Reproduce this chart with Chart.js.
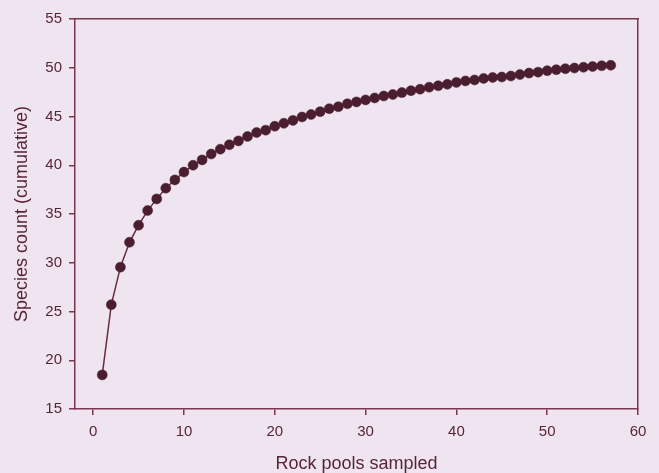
<!DOCTYPE html>
<html>
<head>
<meta charset="utf-8">
<script src="https://cdn.jsdelivr.net/npm/chart.js@4/dist/chart.umd.min.js"></script>
<style>
  html, body { margin: 0; padding: 0; background: #efe5f0; }
  #wrap { width: 659px; height: 473px; }
</style>
</head>
<body>
<div id="wrap"><canvas id="c" width="659" height="473"></canvas></div>
<script>
const poolsSampled = [1,2,3,4,5,6,7,8,9,10,11,12,13,14,15,16,17,18,19,20,21,22,23,24,25,26,27,28,29,30,31,32,33,34,35,36,37,38,39,40,41,42,43,44,45,46,47,48,49,50,51,52,53,54,55,56,57];
const speciesCount = [18.5,25.7,29.55,32.1,33.85,35.35,36.55,37.65,38.5,39.3,40.0,40.55,41.15,41.65,42.1,42.5,42.95,43.35,43.6,44.0,44.3,44.6,44.95,45.2,45.5,45.8,46.0,46.3,46.5,46.7,46.9,47.1,47.25,47.45,47.65,47.8,48.0,48.15,48.3,48.5,48.65,48.75,48.9,49.0,49.05,49.15,49.3,49.45,49.55,49.7,49.8,49.9,49.97,50.05,50.12,50.2,50.25];
const xTickValues = [0,10,20,30,40,50,60];
const yTickValues = [15,20,25,30,35,40,45,50,55];
const xTitle = 'Rock pools sampled';
const yTitle = 'Species count (cumulative)';

const axisColor = '#7a3550';
const textColor = '#5a2438';
const tickFont = { family: '"Liberation Sans", Arial, sans-serif', size: 15 };
const titleFont = { family: '"Liberation Sans", Arial, sans-serif', size: 18, lineHeight: 1 };

const points = poolsSampled.map((x, i) => ({ x: x, y: speciesCount[i] }));

new Chart(document.getElementById('c'), {
  type: 'scatter',
  data: {
    datasets: [{
      data: points,
      showLine: true,
      borderColor: '#6a2a42',
      borderWidth: 1.5,
      pointRadius: 5,
      pointHoverRadius: 5,
      pointBackgroundColor: '#4a1e2e',
      pointBorderColor: '#4a1e2e',
      pointBorderWidth: 0.5
    }]
  },
  options: {
    responsive: false,
    animation: false,
    events: [],
    layout: { padding: { left: 0, right: 21, top: 19, bottom: 0 } },
    plugins: { legend: { display: false }, tooltip: { enabled: false } },
    scales: {
      x: {
        type: 'linear',
        position: 'bottom',
        min: -2,
        max: 60,
        afterBuildTicks: (s) => { s.ticks = xTickValues.map(v => ({ value: v })); },
        afterFit: (s) => { s.height = 64; },
        ticks: { font: tickFont, color: textColor, padding: 8, includeBounds: false, maxRotation: 0 },
        grid: { drawOnChartArea: false, drawTicks: true, tickLength: 6, color: axisColor, lineWidth: 1.5 },
        border: { display: true, color: axisColor, width: 1.5 },
        title: { display: true, text: xTitle, font: titleFont, color: textColor, padding: { top: 0, bottom: 0 } }
      },
      y: {
        type: 'linear',
        position: 'left',
        min: 15,
        max: 55,
        afterBuildTicks: (s) => { s.ticks = yTickValues.map(v => ({ value: v })); },
        afterFit: (s) => { s.width = 75; },
        ticks: { font: tickFont, color: textColor, padding: 7 },
        grid: { drawOnChartArea: false, drawTicks: true, tickLength: 6, color: axisColor, lineWidth: 1.5 },
        border: { display: true, color: axisColor, width: 1.5 },
        title: { display: true, text: yTitle, font: titleFont, color: textColor, padding: { top: 13, bottom: 0 } }
      },
      x2: {
        type: 'linear',
        position: 'top',
        min: -2,
        max: 60,
        ticks: { display: false },
        grid: { display: false, drawTicks: false },
        border: { display: true, color: axisColor, width: 1.5 },
        afterFit: (s) => { s.height = 0; }
      },
      y2: {
        type: 'linear',
        position: 'right',
        min: 15,
        max: 55,
        ticks: { display: false },
        grid: { display: false, drawTicks: false },
        border: { display: true, color: axisColor, width: 1.5 },
        afterFit: (s) => { s.width = 0; }
      }
    }
  }
});
</script>
</body>
</html>
